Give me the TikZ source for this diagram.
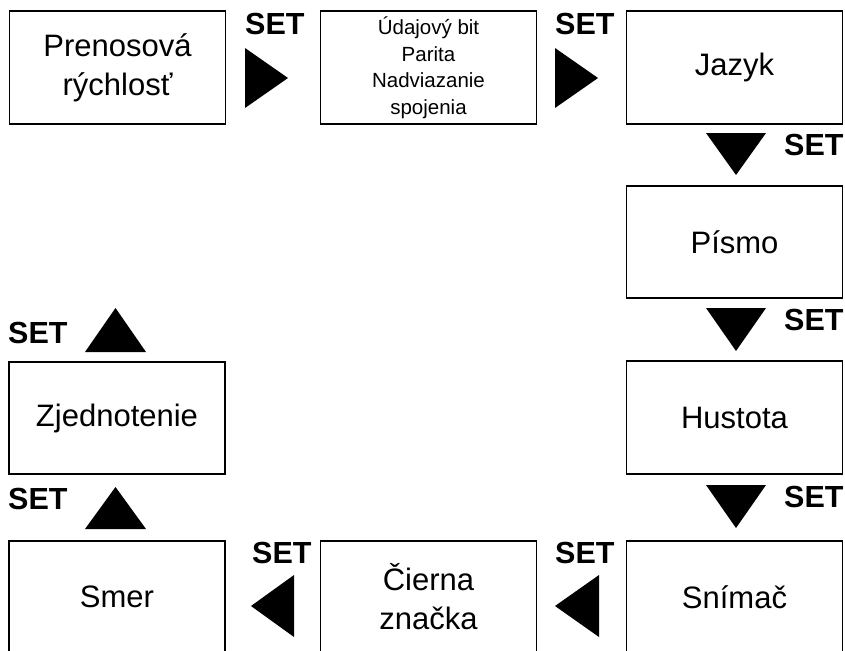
\documentclass[tikz,border=0pt]{standalone}
\usepackage{fontspec}
\setmainfont{Liberation Sans}
\begin{document}
\begin{tikzpicture}[x=1pt,y=-1pt,
  box/.style={draw=black,line width=1.6pt,minimum width=216pt,inner sep=0pt,align=center,
    font=\fontsize{31}{39}\selectfont},
  smallbox/.style={box,font=\fontsize{20.5}{26.5}\selectfont},
  setlbl/.style={inner sep=0pt,anchor=base west,font=\fontsize{30.5}{30}\selectfont\bfseries},
  tri/.style={fill=black}]
\useasboundingbox (0,0) rectangle (845,650);
\clip (0,0) rectangle (845,650);
% top row
\node[box,minimum height=113pt] (b1) at (117.5,67.5) {Prenosová\\rýchlosť};
\node[smallbox,minimum height=113pt] (b2) at (428.5,67.5) {Údajový bit\\Parita\\Nadviazanie\\spojenia};
\node[box,minimum height=113pt] (b3) at (734.5,67.5) {Jazyk};
% right column
\node[box,minimum height=112pt] (b4) at (734.5,242) {Písmo};
\node[box,minimum height=113pt] (b5) at (734.5,417.5) {Hustota};
\node[box,minimum height=112pt,anchor=north] (b6) at (734.5,540) {Snímač};
% bottom row
\node[box,minimum height=112pt,anchor=north] (b7) at (428.5,540) {Čierna\\značka};
\node[box,minimum height=112pt,anchor=north] (b8) at (117,540) {Smer};
% left column
\node[box,minimum height=112pt] (b9) at (117,418) {Zjednotenie};
% triangles
\fill[tri] (245,48) -- (245,108) -- (288,78) -- cycle;
\fill[tri] (555,48) -- (555,108) -- (598,78) -- cycle;
\fill[tri] (706,133) -- (766,133) -- (736,175) -- cycle;
\fill[tri] (706,308) -- (766,308) -- (736,351) -- cycle;
\fill[tri] (706,485) -- (766,485) -- (736,528) -- cycle;
\fill[tri] (599,575) -- (599,637) -- (555,606) -- cycle;
\fill[tri] (294,575) -- (294,637) -- (251,606) -- cycle;
\fill[tri] (85,529) -- (146,529) -- (115.5,487) -- cycle;
\fill[tri] (85,352) -- (146,352) -- (115.5,308) -- cycle;
% SET labels
\node[setlbl] (s1) at (245,35) {SET};
\node[setlbl] (s2) at (555,35) {SET};
\node[setlbl] (s3) at (784,155) {SET};
\node[setlbl] (s4) at (784,330) {SET};
\node[setlbl] (s5) at (784,507) {SET};
\node[setlbl] (s6) at (555,563) {SET};
\node[setlbl] (s7) at (252,563) {SET};
\node[setlbl] (s8) at (8,509) {SET};
\node[setlbl] (s9) at (8,343) {SET};
\end{tikzpicture}
\end{document}
